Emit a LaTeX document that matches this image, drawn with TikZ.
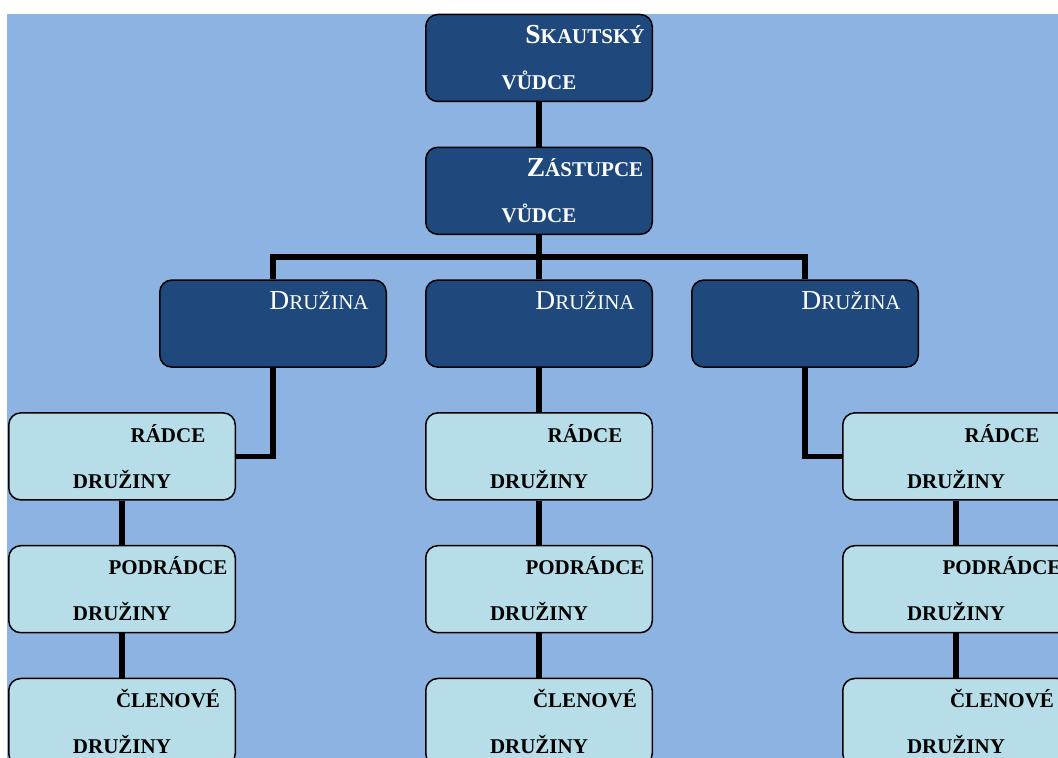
\documentclass[tikz,border=0pt]{standalone}
\usepackage{fontspec}
\setmainfont{Liberation Serif}
\usepackage{xcolor}
\usepackage{tikz}
\usetikzlibrary{positioning}

\definecolor{bgblue}{HTML}{8DB3E2}
\definecolor{darkbox}{HTML}{1F497D}
\definecolor{lightbox}{HTML}{B7DEE8}

\newcommand{\initsz}{\fontsize{27.5}{30}\selectfont}
\newcommand{\smcsz}{\fontsize{21}{24}\selectfont}

\begin{document}
\begin{tikzpicture}[x=1pt,y=1pt,font=\smcsz,
      box/.style={rectangle,rounded corners=12pt,draw=black,line width=1.5pt,
        minimum width=226.5pt,minimum height=87pt},
      lead box/.style={box,fill=darkbox},
      member box/.style={box,fill=lightbox},
      top line/.style={anchor=base,inner sep=0pt,xshift=46pt,yshift=-30pt},
      bottom line/.style={anchor=base,inner sep=0pt,yshift=-76pt},
      link/.style={draw=black,line width=5.5pt}
      ]
      \useasboundingbox (0,0) rectangle (1058,758);
      \clip (0,0) rectangle (1058,758);
      \fill[bgblue] (7,0) rectangle (1058,744);

      % leaders
      \node[lead box] (sv) at (539,700) {};
      \node[lead box,below=44.3pt of sv] (zv) {};
      \node[lead box,below=44.3pt of zv] (d2) {};
      \node[lead box,left=38pt of d2] (d1) {};
      \node[lead box,right=38pt of d2] (d3) {};

      % patrol members
      \node[member box,below=44.3pt of d2] (r2) {};
      \node[member box,below=44.3pt of r2] (p2) {};
      \node[member box,below=44.3pt of p2] (c2) {};
      \node[member box,left=189pt of r2] (r1) {};
      \node[member box,left=189pt of p2] (p1) {};
      \node[member box,left=189pt of c2] (c1) {};
      \node[member box,right=189pt of r2] (r3) {};
      \node[member box,right=189pt of p2] (p3) {};
      \node[member box,right=189pt of c2] (c3) {};

      % texts
      \node[top line,white,font=\bfseries\smcsz] (svA) at (sv.north) {{\initsz S}KAUTSKÝ};
      \node[bottom line,white,font=\bfseries\smcsz] (svB) at (sv.north) {VŮDCE};
      \node[top line,white,font=\bfseries\smcsz] (zvA) at (zv.north) {{\initsz Z}ÁSTUPCE};
      \node[bottom line,white,font=\bfseries\smcsz] (zvB) at (zv.north) {VŮDCE};
      \node[top line,white] (d1A) at (d1.north) {{\initsz D}RUŽINA};
      \node[top line,white] (d2A) at (d2.north) {{\initsz D}RUŽINA};
      \node[top line,white] (d3A) at (d3.north) {{\initsz D}RUŽINA};

      \node[top line,font=\bfseries\smcsz] (r1A) at (r1.north) {RÁDCE};
      \node[bottom line,font=\bfseries\smcsz] (r1B) at (r1.north) {DRUŽINY};
      \node[top line,font=\bfseries\smcsz] (p1A) at (p1.north) {PODRÁDCE};
      \node[bottom line,font=\bfseries\smcsz] (p1B) at (p1.north) {DRUŽINY};
      \node[top line,font=\bfseries\smcsz] (c1A) at (c1.north) {ČLENOVÉ};
      \node[bottom line,font=\bfseries\smcsz] (c1B) at (c1.north) {DRUŽINY};

      \node[top line,font=\bfseries\smcsz] (r2A) at (r2.north) {RÁDCE};
      \node[bottom line,font=\bfseries\smcsz] (r2B) at (r2.north) {DRUŽINY};
      \node[top line,font=\bfseries\smcsz] (p2A) at (p2.north) {PODRÁDCE};
      \node[bottom line,font=\bfseries\smcsz] (p2B) at (p2.north) {DRUŽINY};
      \node[top line,font=\bfseries\smcsz] (c2A) at (c2.north) {ČLENOVÉ};
      \node[bottom line,font=\bfseries\smcsz] (c2B) at (c2.north) {DRUŽINY};

      \node[top line,font=\bfseries\smcsz] (r3A) at (r3.north) {RÁDCE};
      \node[bottom line,font=\bfseries\smcsz] (r3B) at (r3.north) {DRUŽINY};
      \node[top line,font=\bfseries\smcsz] (p3A) at (p3.north) {PODRÁDCE};
      \node[bottom line,font=\bfseries\smcsz] (p3B) at (p3.north) {DRUŽINY};
      \node[top line,font=\bfseries\smcsz] (c3A) at (c3.north) {ČLENOVÉ};
      \node[bottom line,font=\bfseries\smcsz] (c3B) at (c3.north) {DRUŽINY};

      % connectors
      \coordinate (fork) at ([yshift=-22pt]zv.south);
      \draw[link] (sv.south) -- (zv.north);
      \draw[link] (zv.south) -- (fork) -- (d2.north);
      \draw[link] (fork) -| (d1.north);
      \draw[link] (fork) -| (d3.north);

      \draw[link] (d1.south) |- (r1.east);
      \draw[link] (d2.south) -- (r2.north);
      \draw[link] (d3.south) |- (r3.west);

      \draw[link] (r1.south) -- (p1.north);
      \draw[link] (p1.south) -- (c1.north);
      \draw[link] (r2.south) -- (p2.north);
      \draw[link] (p2.south) -- (c2.north);
      \draw[link] (r3.south) -- (p3.north);
      \draw[link] (p3.south) -- (c3.north);

    \end{tikzpicture}
\end{document}
